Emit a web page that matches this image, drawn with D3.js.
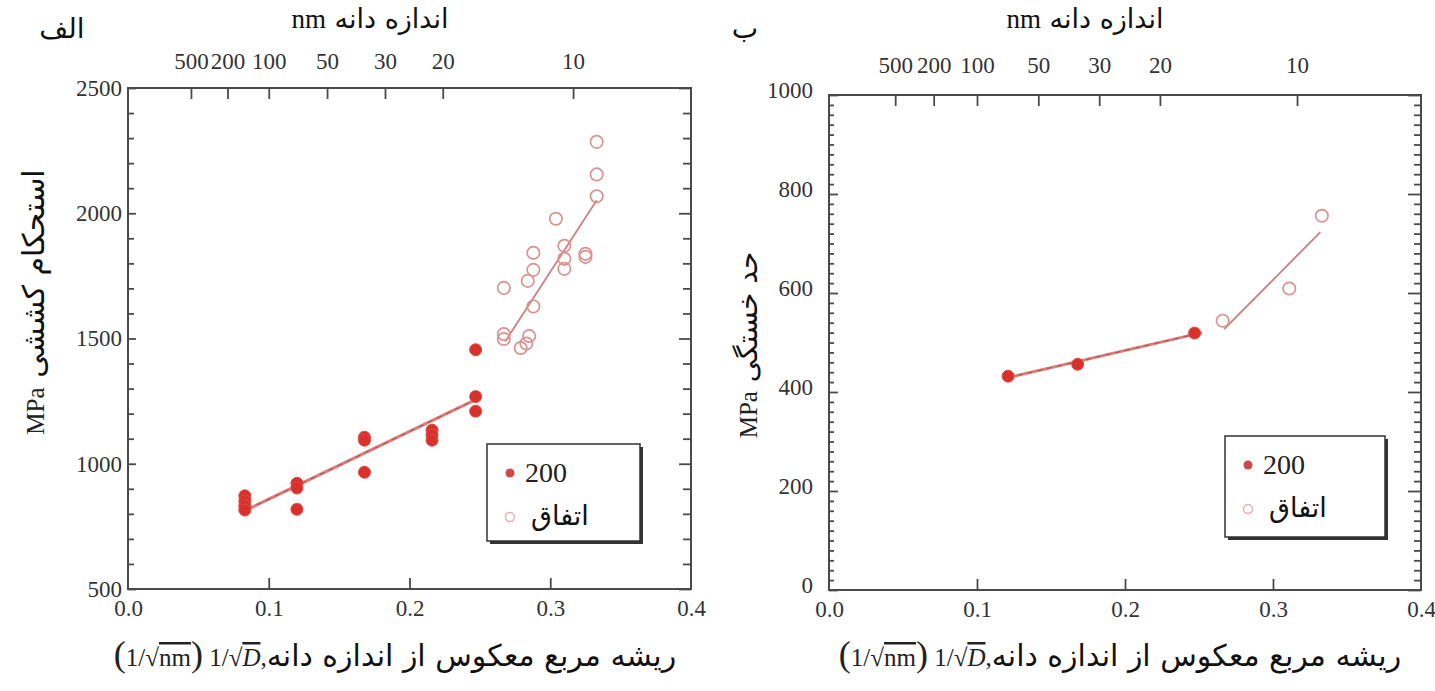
<!DOCTYPE html>
<html>
<head>
<meta charset="utf-8">
<script src="https://cdn.jsdelivr.net/npm/d3@7"></script>
<style>
  html, body { margin: 0; padding: 0; background: #fff; }
  svg { display: block; }
</style>
</head>
<body>
<svg id="chart" width="1435" height="691"></svg>
<script>
// ---- panel (a): tensile strength vs. 1/sqrt(D) ----
const tensileFilledX = [0.083, 0.083, 0.083, 0.083, 0.120, 0.120, 0.120, 0.168, 0.168, 0.168, 0.216, 0.216, 0.216, 0.247, 0.247, 0.247];
const tensileFilledY = [872, 852, 832, 815, 922, 903, 818, 1106, 1094, 966, 1134, 1114, 1094, 1455, 1268, 1210];
const tensileOpenX = [0.333, 0.333, 0.333, 0.304, 0.325, 0.325, 0.310, 0.310, 0.310, 0.288, 0.288, 0.284, 0.267, 0.288, 0.267, 0.267, 0.285, 0.279, 0.283];
const tensileOpenY = [2285, 2155, 2068, 1978, 1838, 1826, 1870, 1818, 1778, 1842, 1774, 1730, 1702, 1628, 1518, 1498, 1510, 1462, 1480];
const tensileFitFilled = [[0.085, 818], [0.247, 1256]];
const tensileFitOpen = [[0.268, 1488], [0.333, 2052]];

// ---- panel (b): fatigue limit vs. 1/sqrt(D) ----
const fatigueFilledX = [0.121, 0.168, 0.247];
const fatigueFilledY = [432, 456, 519];
const fatigueOpenX = [0.266, 0.311, 0.333];
const fatigueOpenY = [544, 609, 756];
const fatigueFitFilled = [[0.121, 429], [0.252, 520]];
const fatigueFitOpen = [[0.267, 527], [0.332, 723]];

// ---- shared axis labels ----
const xTicks = [0.0, 0.1, 0.2, 0.3, 0.4];
const grainSizes = [500, 200, 100, 50, 30, 20, 10];
const tensileTicks = [500, 1000, 1500, 2000, 2500];
const fatigueTicks = [0, 200, 400, 600, 800, 1000];
const seriesNames = ["200", "اتفاق"];

const svg = d3.select("#chart");
const RED = "#d8302b";
const PINK = "#d9928f";
const FRAME = "#4a4a4a";
const SERIF = "'Liberation Serif', 'DejaVu Serif', serif";
const SANS_FA = "'DejaVu Sans', sans-serif";

function drawPanel(o) {
  const x = d3.scaleLinear().domain([0, 0.4]).range(o.xr);
  const y = d3.scaleLinear().domain(o.yDomain).range(o.yr);
  const g = svg.append("g");

  // plot frame
  g.append("rect")
    .attr("x", o.xr[0]).attr("y", o.yr[1])
    .attr("width", o.xr[1] - o.xr[0]).attr("height", o.yr[0] - o.yr[1])
    .attr("fill", "none").attr("stroke", FRAME).attr("stroke-width", 2);

  const styleAxis = (sel) => {
    sel.attr("font-family", null);
    sel.select(".domain").remove();
    sel.selectAll(".tick line").attr("stroke", FRAME).attr("stroke-width", 1.8);
    sel.selectAll(".tick text")
      .attr("font-family", SERIF)
      .style("font-family", SERIF).style("font-size", "23px").style("fill", "#333");
  };

  // bottom axis, inward ticks
  g.append("g").attr("transform", `translate(0,${o.yr[0]})`)
    .call(d3.axisBottom(x).tickValues(xTicks.slice(1, 4)).tickSize(-11).tickFormat(""))
    .call(styleAxis);
  g.append("g").attr("transform", `translate(0,${o.yr[0]})`)
    .call(d3.axisBottom(x).tickValues(xTicks).tickSize(0).tickPadding(11).tickFormat(d3.format(".1f")))
    .call(styleAxis);

  // top axis in grain size (nm), positioned at 1/sqrt(d)
  g.append("g").attr("transform", `translate(0,${o.yr[1]})`)
    .call(d3.axisTop(x).tickValues(grainSizes.map(d => 1 / Math.sqrt(d))).tickSize(-11)
      .tickPadding(o.topPad).tickFormat((v, i) => grainSizes[i]))
    .call(styleAxis);

  // left axis: labelled majors plus unlabelled minors
  g.append("g").attr("transform", `translate(${o.xr[0]},0)`)
    .call(d3.axisLeft(y).tickValues(o.minor).tickSize(-o.minorLen).tickFormat(""))
    .call(styleAxis);
  g.append("g").attr("transform", `translate(${o.xr[0]},0)`)
    .call(d3.axisLeft(y).tickValues(o.yTicks).tickSize(-o.majorLen).tickPadding(o.yPad).tickFormat(d3.format("d")))
    .call(styleAxis)
    .call(s => s.selectAll(".tick text").attr("dy", o.yLabelDy));

  // right edge ticks
  g.append("g").attr("transform", `translate(${o.xr[1]},0)`)
    .call(d3.axisRight(y).tickValues(o.minor).tickSize(-o.minorLen - 2).tickFormat(""))
    .call(styleAxis);
  g.append("g").attr("transform", `translate(${o.xr[1]},0)`)
    .call(d3.axisRight(y).tickValues(o.yTicks).tickSize(-o.majorLen - 4).tickFormat(""))
    .call(styleAxis);

  // fit lines
  const line = d3.line().x(d => x(d[0])).y(d => y(d[1]));
  g.append("path").datum(o.fitFilled).attr("d", line)
    .attr("stroke", "#e07a76").attr("stroke-width", 3).attr("fill", "none");
  g.append("path").datum(o.fitFilled).attr("d", line)
    .attr("stroke", "#9a5a58").attr("stroke-width", 1).attr("stroke-dasharray", "5,5").attr("fill", "none");
  g.append("path").datum(o.fitOpen).attr("d", line)
    .attr("stroke", "#c9817e").attr("stroke-width", 1.8).attr("fill", "none");

  // open markers
  g.append("g").selectAll("circle").data(d3.range(o.openX.length)).join("circle")
    .attr("cx", i => x(o.openX[i])).attr("cy", i => y(o.openY[i])).attr("r", 6.2)
    .attr("fill", "none").attr("stroke", PINK).attr("stroke-width", 1.7);
  // filled markers
  g.append("g").selectAll("circle").data(d3.range(o.filledX.length)).join("circle")
    .attr("cx", i => x(o.filledX[i])).attr("cy", i => y(o.filledY[i])).attr("r", 6)
    .attr("fill", RED).attr("stroke", "#e04a44").attr("stroke-width", 1);

  // legend box with drop shadow
  const L = o.legend;
  g.append("rect").attr("x", L.x + 3).attr("y", L.y + 3).attr("width", L.w).attr("height", L.h)
    .attr("fill", "#333");
  g.append("rect").attr("x", L.x).attr("y", L.y).attr("width", L.w).attr("height", L.h)
    .attr("fill", "#fff").attr("stroke", "#333").attr("stroke-width", 1.5);
  g.append("circle").attr("cx", L.x + 23).attr("cy", L.y + 29).attr("r", 4.5).attr("fill", "#cc4a4a");
  g.append("circle").attr("cx", L.x + 23).attr("cy", L.y + 73).attr("r", 4.5)
    .attr("fill", "none").attr("stroke", "#dbb0ad").attr("stroke-width", 1.4);
  g.append("text").attr("x", L.x + 38).attr("y", L.y + 38)
    .style("font-family", SERIF).style("font-size", "28px").style("fill", "#222").text(seriesNames[0]);
  g.append("text").attr("x", L.x + 44).attr("y", L.y + 81)
    .style("font-family", SANS_FA).style("font-size", "27px").style("fill", "#111").text(seriesNames[1]);

  // top title: "اندازه دانه" + nm (RTL line)
  const tt = g.append("text").attr("x", o.titleX).attr("y", 28)
    .attr("text-anchor", "middle").attr("direction", "rtl").style("unicode-bidi", "embed");
  tt.append("tspan").style("font-family", SANS_FA).style("font-size", "27px").style("fill", "#111").text("اندازه دانه ");
  tt.append("tspan").style("font-family", SERIF).style("font-size", "27px").style("fill", "#111").text("nm");

  // panel letter
  g.append("text").attr("x", o.letterX).attr("y", 38)
    .attr("text-anchor", "middle")
    .style("font-family", SANS_FA).style("font-size", "28px").style("fill", "#111").text(o.letter);

  // rotated y label
  const yl = g.append("text")
    .attr("transform", `translate(${o.yLabelX},${o.yLabelY}) rotate(-90)`)
    .attr("text-anchor", "middle").attr("direction", "rtl").style("unicode-bidi", "embed");
  yl.append("tspan").style("font-family", SANS_FA).style("font-size", o.yLabelSize + "px").style("fill", "#111")
    .text(o.yLabel + " ");
  yl.append("tspan").style("font-family", SERIF).style("font-size", "25px").style("fill", "#222").text("MPa");

  // bottom x label: (1/√nm) 1/√D, + Persian caption
  const t = g.append("text").attr("x", o.xLabelX).attr("y", 666)
    .attr("text-anchor", "middle").attr("direction", "ltr");
  const part = (txt, size, extra) => {
    const s = t.append("tspan").style("font-family", SERIF).style("font-size", size + "px").style("fill", "#222").text(txt);
    if (extra) extra(s);
    return s;
  };
  part("(", 36);
  part("1/√", 25);
  part("nm", 25, s => s.style("text-decoration", "overline"));
  part(")", 36);
  part(" 1/√", 25);
  part("D", 25, s => s.style("font-style", "italic").style("text-decoration", "overline"));
  part(",", 25);
  t.append("tspan").style("font-family", SANS_FA).style("font-size", "30px").style("fill", "#111")
    .text("ریشه مربع معکوس از اندازه دانه");
}

drawPanel({
  xr: [128, 691], yr: [589, 88], yDomain: [500, 2500],
  yTicks: tensileTicks, minor: d3.range(600, 2500, 100).filter(v => v % 500),
  majorLen: 8, minorLen: 6, yPad: 6, yLabelDy: "0.32em", topPad: 19,
  filledX: tensileFilledX, filledY: tensileFilledY,
  openX: tensileOpenX, openY: tensileOpenY,
  fitFilled: tensileFitFilled, fitOpen: tensileFitOpen,
  legend: { x: 487, y: 444, w: 153, h: 97 },
  titleX: 370, letter: "الف", letterX: 62,
  yLabel: "استحکام کششی", yLabelSize: 30, yLabelX: 44, yLabelY: 302,
  xLabelX: 395
});

drawPanel({
  xr: [829, 1421], yr: [590, 95], yDomain: [0, 1000],
  yTicks: fatigueTicks, minor: d3.range(20, 1000, 20).filter(v => v % 200),
  majorLen: 9, minorLen: 5, yPad: 16, yLabelDy: "0.1em", topPad: 22,
  filledX: fatigueFilledX, filledY: fatigueFilledY,
  openX: fatigueOpenX, openY: fatigueOpenY,
  fitFilled: fatigueFitFilled, fitOpen: fatigueFitOpen,
  legend: { x: 1225, y: 436, w: 160, h: 101 },
  titleX: 1085, letter: "ب", letterX: 745,
  yLabel: "حد خستگی", yLabelSize: 28, yLabelX: 757, yLabelY: 345,
  xLabelX: 1120
});
</script>
</body>
</html>
